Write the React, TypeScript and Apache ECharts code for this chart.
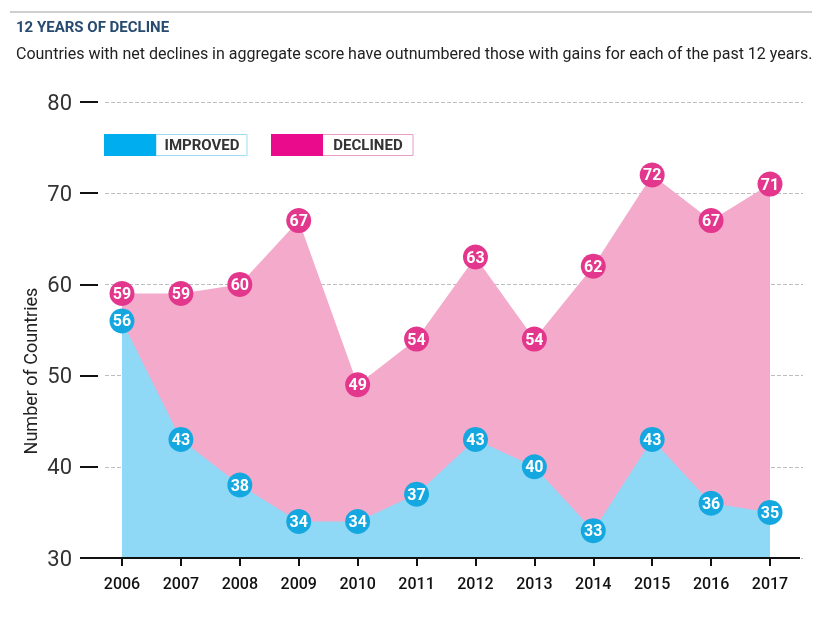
import React, { useEffect, useRef } from "react";
import * as echarts from "echarts";

const years = [2006, 2007, 2008, 2009, 2010, 2011, 2012, 2013, 2014, 2015, 2016, 2017];
const improved = [56, 43, 38, 34, 34, 37, 43, 40, 33, 43, 36, 35];
const declined = [59, 59, 60, 67, 49, 54, 63, 54, 62, 72, 67, 71];
const yTicks = [30, 40, 50, 60, 70, 80];

const FONT = "Roboto, 'Noto Sans', sans-serif";

export default function App() {
  const ref = useRef<HTMLDivElement>(null);
  useEffect(() => {
    if (!ref.current) return;
    const chart = echarts.init(ref.current, undefined, { renderer: "svg" });
    const impData = years.map((y, i) => [y, improved[i]]);
    const decData = years.map((y, i) => [y, declined[i]]);
    const markerLabel = {
      show: true,
      position: "inside" as const,
      color: "#fff",
      fontWeight: "bold" as const,
      fontSize: 16,
      fontFamily: FONT,
      formatter: (p: any) => String(p.value[1]),
    };
    chart.setOption({
      animation: false,
      textStyle: { fontFamily: FONT },
      grid: { left: 105, right: 22, top: 102, bottom: 59 },
      xAxis: {
        type: "value",
        min: 2005.7114,
        max: 2017.5602,
        axisLine: { show: false },
        splitLine: { show: false },
        axisTick: {
          show: true,
          customValues: years,
          length: 8,
          lineStyle: { color: "#111", width: 2 },
        },
        axisLabel: {
          customValues: years,
          margin: 17,
          color: "#111",
          fontSize: 16,
          fontWeight: 500,
          fontFamily: FONT,
          formatter: (v: number) => String(v),
        },
      },
      yAxis: {
        type: "value",
        min: 30,
        max: 80,
        interval: 10,
        offset: 7,
        axisLine: { show: false },
        axisTick: { show: true, length: 18, lineStyle: { color: "#111", width: 2 } },
        axisLabel: {
          margin: 26,
          color: "#333",
          fontSize: 22,
          fontFamily: FONT,
          formatter: (v: number) => (yTicks.includes(v) ? String(v) : ""),
        },
        splitLine: { show: true, lineStyle: { color: "#bdbdbd", type: "dashed", width: 1 } },
      },
      graphic: [
        { type: "line", shape: { x1: 10, y1: 12, x2: 812, y2: 12 }, style: { stroke: "#cfcfcf", lineWidth: 2 } },
        {
          type: "text", x: 16, y: 27,
          style: { text: "12 YEARS OF DECLINE", fill: "#274a6f", font: `bold 15px ${FONT}`, textVerticalAlign: "middle" },
        },
        {
          type: "text", x: 16, y: 53,
          style: {
            text: "Countries with net declines in aggregate score have outnumbered those with gains for each of the past 12 years.",
            fill: "#222", font: `16px ${FONT}`, textVerticalAlign: "middle",
          },
        },
        {
          type: "text", x: 30, y: 371, rotation: Math.PI / 2,
          style: { text: "Number of Countries", fill: "#222", font: `18px ${FONT}`, textAlign: "center", textVerticalAlign: "middle" },
        },
        { type: "line", z: 10, shape: { x1: 80, y1: 558, x2: 800, y2: 558 }, style: { stroke: "#111", lineWidth: 2 } },
        // legend improved
        { type: "rect", shape: { x: 156, y: 134.5, width: 91, height: 21 }, style: { fill: "#fff", stroke: "#9fdcf3", lineWidth: 1 } },
        { type: "rect", shape: { x: 104, y: 134, width: 52, height: 22 }, style: { fill: "#00aeef" } },
        {
          type: "text", x: 202, y: 145,
          style: { text: "IMPROVED", fill: "#333", font: `bold 15px ${FONT}`, textAlign: "center", textVerticalAlign: "middle" },
        },
        // legend declined
        { type: "rect", shape: { x: 322, y: 134.5, width: 91, height: 21 }, style: { fill: "#fff", stroke: "#e89cc6", lineWidth: 1 } },
        { type: "rect", shape: { x: 271, y: 134, width: 52, height: 22 }, style: { fill: "#ea0a8c" } },
        {
          type: "text", x: 368, y: 145,
          style: { text: "DECLINED", fill: "#333", font: `bold 15px ${FONT}`, textAlign: "center", textVerticalAlign: "middle" },
        },
      ],
      series: [
        {
          name: "Declined area",
          type: "line",
          data: decData,
          showSymbol: false,
          lineStyle: { width: 0 },
          areaStyle: { color: "#f4aacb", opacity: 1, origin: "start" },
          z: 1,
          silent: true,
        },
        {
          name: "Improved area",
          type: "line",
          data: impData,
          showSymbol: false,
          lineStyle: { width: 0 },
          areaStyle: { color: "#8fd8f6", opacity: 1, origin: "start" },
          z: 2,
          silent: true,
        },
        {
          name: "Declined",
          type: "scatter",
          data: decData,
          symbolSize: 25,
          itemStyle: { color: "#e2378c", opacity: 1 },
          label: markerLabel,
          z: 5,
        },
        {
          name: "Improved",
          type: "scatter",
          data: impData,
          symbolSize: 25,
          itemStyle: { color: "#15a8e0", opacity: 1 },
          label: markerLabel,
          z: 5,
        },
      ],
    });
    return () => chart.dispose();
  }, []);
  return <div ref={ref} style={{ width: 825, height: 617, position: "fixed", left: 0, top: 0 }} />;
}
